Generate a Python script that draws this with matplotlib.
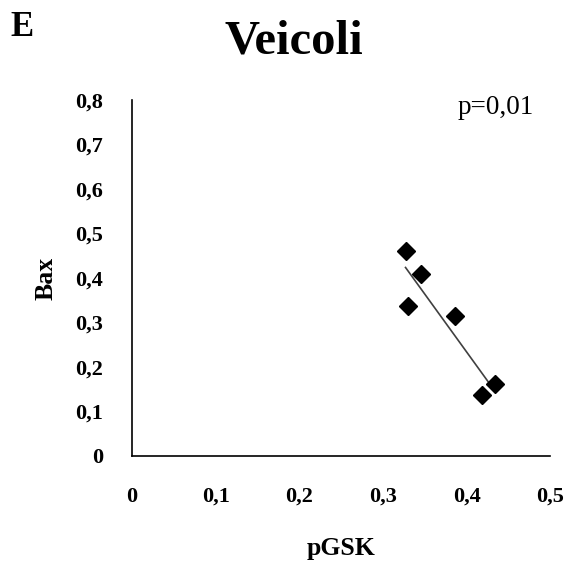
import matplotlib
matplotlib.use('Agg')
import matplotlib.pyplot as plt
import numpy as np

# values
pgsk = [0.327, 0.345, 0.330, 0.386, 0.418, 0.434]
bax = [0.461, 0.409, 0.337, 0.315, 0.136, 0.161]
x_ticks = [0, 0.1, 0.2, 0.3, 0.4, 0.5]
x_labels = ["0", "0,1", "0,2", "0,3", "0,4", "0,5"]
y_ticks = [0, 0.1, 0.2, 0.3, 0.4, 0.5, 0.6, 0.7, 0.8]
y_labels = ["0", "0,1", "0,2", "0,3", "0,4", "0,5", "0,6", "0,7", "0,8"]

plt.rcParams['font.family'] = ['Liberation Serif', 'DejaVu Serif']

fig = plt.figure(figsize=(5.69, 5.65), dpi=100)
ax = fig.add_axes([0.232, 0.193, 0.735, 0.630])

# linear trend line
xs = np.array(pgsk)
ys = np.array(bax)
a, b = np.polyfit(xs, ys, 1)
xl = np.array([xs.min(), xs.max()])
ax.plot(xl, a * xl + b, color='#404040', lw=1.2, zorder=2)

ax.plot(pgsk, bax, linestyle='none', marker='D', ms=9.5, color='black', zorder=3)

ax.set_xlim(0, 0.5)
ax.set_ylim(0, 0.8)
ax.set_xticks(x_ticks)
ax.set_xticklabels(x_labels, fontsize=16, fontweight='bold')
ax.set_yticks(y_ticks)
ax.set_yticklabels(y_labels, fontsize=16, fontweight='bold')
ax.tick_params(axis='x', length=0, pad=22)
ax.tick_params(axis='y', length=0, pad=21)

for s in ['top', 'right']:
    ax.spines[s].set_visible(False)
for s in ['left', 'bottom']:
    ax.spines[s].set_linewidth(1.2)

ax.set_xlabel('pGSK', fontsize=18.5, fontweight='bold')
ax.set_ylabel('Bax', fontsize=18.5, fontweight='bold')
ax.xaxis.set_label_coords(0.5, -0.2275)
ax.yaxis.set_label_coords(-0.177, 0.5)

ax.text(0.870, 0.961, 'p=0,01', transform=ax.transAxes, fontsize=19.5,
        ha='center', va='baseline')

fig.text(0.516, 0.906, 'Veicoli', fontsize=35, fontweight='bold',
         ha='center', va='baseline')
fig.text(0.019, 0.936, 'E', fontsize=25, fontweight='bold',
         ha='left', va='baseline')

fig.savefig('out.png', dpi=100)
